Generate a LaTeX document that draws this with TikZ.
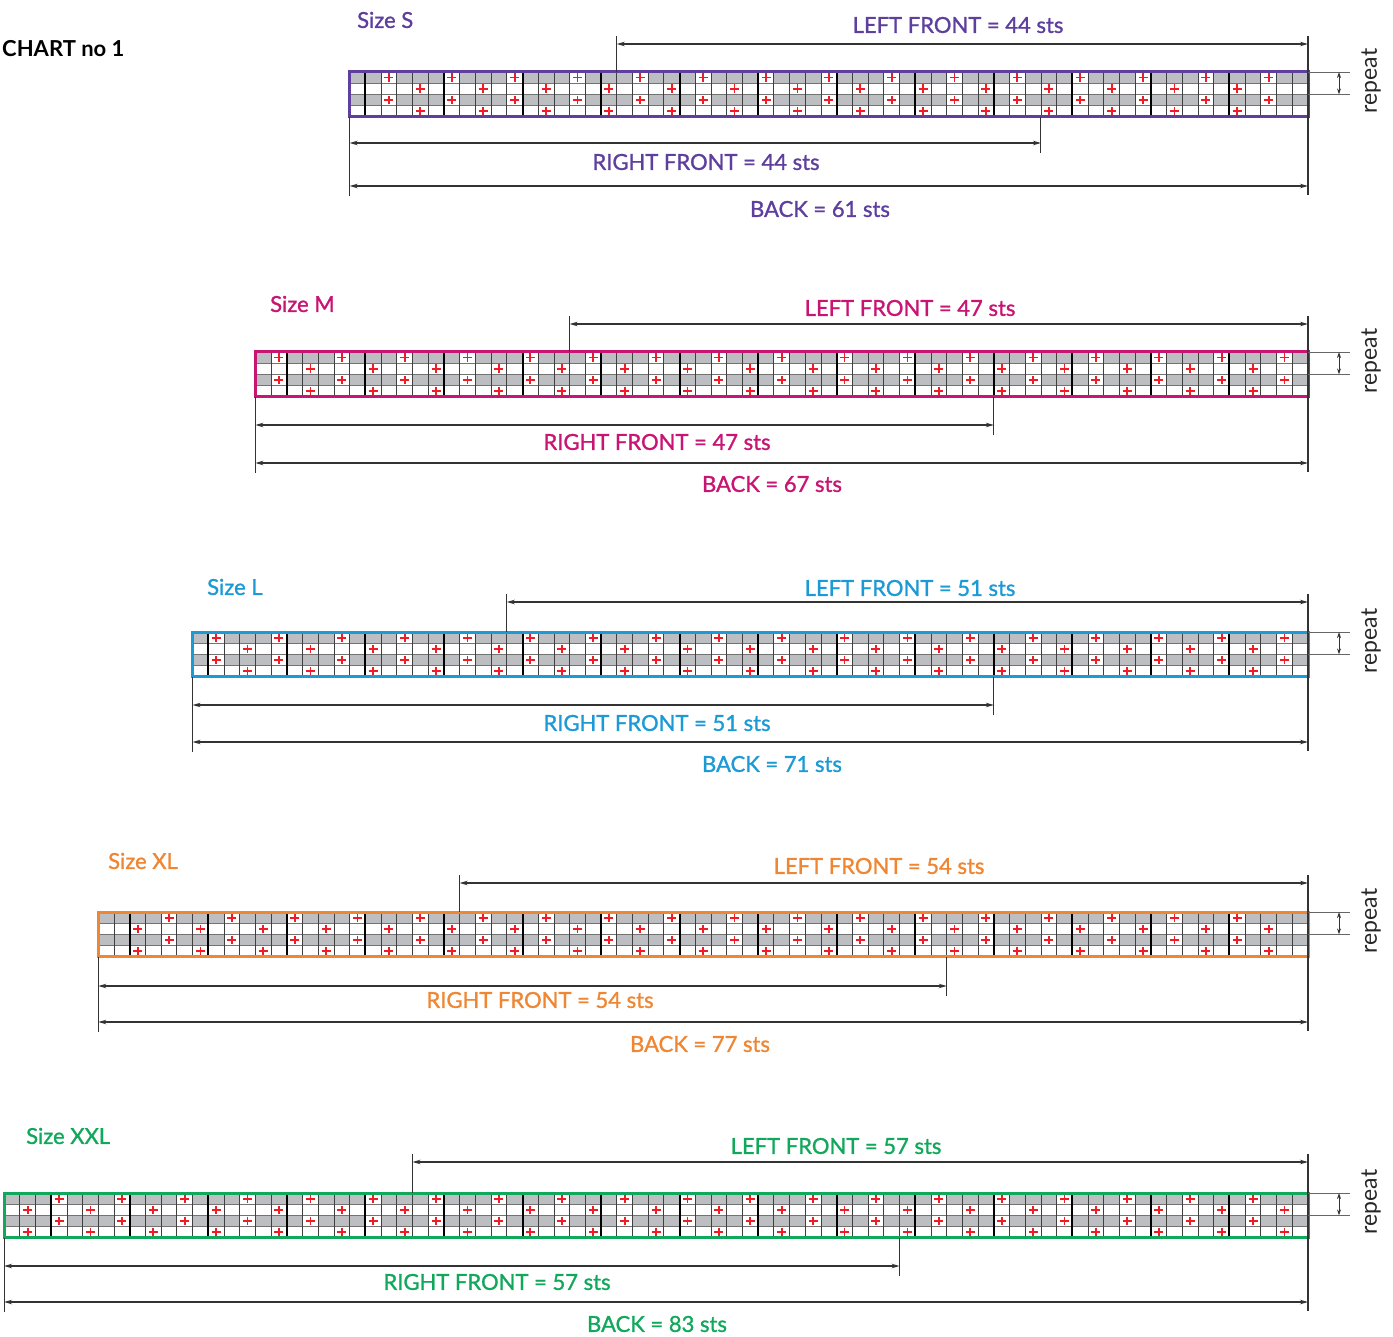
\documentclass[tikz,border=0pt]{standalone}
\usepackage{fontspec}
\setmainfont{Lato}
\newfontfamily\medfont{Lato}[FakeBold=1.2]
\usetikzlibrary{arrows.meta}
\definecolor{cS}{HTML}{5E3F9E}
\definecolor{cM}{HTML}{C81473}
\definecolor{cL}{HTML}{1C9AD6}
\definecolor{cXL}{HTML}{EE8633}
\definecolor{cXXL}{HTML}{12A85C}
\definecolor{cellgray}{HTML}{BDBEC1}
\definecolor{crossred}{HTML}{EE1C25}
\definecolor{dimgray}{HTML}{333333}
\begin{document}
\begin{tikzpicture}[x=1pt,y=-1pt,
  dimline/.style={draw=dimgray,line width=1.1pt,{Stealth[length=8pt,width=4.5pt]}-{Stealth[length=8pt,width=4.5pt]}},
  extline/.style={draw=dimgray,line width=1.1pt},
  gridthin/.style={draw=black!75,line width=0.8pt},
  gridthick/.style={draw=black,line width=2pt},
  rowline/.style={draw=black!55,line width=0.7pt},
  crossmark/.style={draw=crossred,line width=1.8pt},
  lbl/.style={font=\medfont\fontsize{22}{26}\selectfont,inner sep=0pt},
  replbl/.style={font=\fontsize{23}{26}\selectfont,inner sep=0pt,rotate=90,text=black!85},
  repline/.style={draw=black!60,line width=0.8pt},
  reparrow/.style={draw=dimgray,line width=1pt,{Stealth[length=6pt,width=4pt]}-{Stealth[length=6pt,width=4pt]}},
]
\useasboundingbox (0,0) rectangle (1393,1337);
\node[font=\bfseries\fontsize{22}{26}\selectfont,anchor=west,inner sep=0pt] (title) at (2,49) {CHART no 1};
\def\w{15.71}
\def\h{11.2}
\def\R{1308}
\foreach \id/\N/\col/\top/\res/\lf/\lfy/\lfx/\rfy/\rfx/\bky/\bkx/\szx/\szy/\lfly/\rfly/\bkly in {
 S/61/cS/72/2/44/44/958/143/706/186/820/357/20/25/162/209,
 M/67/cM/352/1/47/324/910/425/657/463/772/270/304/308/442/484,
 L/71/cL/632/1/51/602/910/705/657/742/772/207/587/588/723/764,
 XL/77/cXL/912/0/54/883/879/986/540/1022/700/108/861/866/1000/1044,
 XXL/83/cXXL/1193/3/57/1162/836/1266/497/1302/657/26/1136/1146/1282/1324}{
  \pgfmathsetmacro\Lx{\R-\N*\w}
  \pgfmathsetmacro\lfpos{\R-\lf*\w}
  \pgfmathsetmacro\rfpos{\Lx+\lf*\w}
  \pgfmathsetmacro\bot{\top+4*\h}
  \pgfmathtruncatemacro\Nm{\N-1}
  \pgfmathtruncatemacro\Nmm{\N-2}
  \fill[cellgray] (\Lx,\top) rectangle (\R,\top+\h);
  \fill[cellgray] (\Lx,\top+2*\h) rectangle (\R,\top+3*\h);
  \foreach \c in {1,...,\Nmm}{
    \pgfmathtruncatemacro\r{\N-1-\c}
    \pgfmathtruncatemacro\m{mod(\r,4)}
    \foreach \k in {0,1,2,3}{
      \pgfmathtruncatemacro\want{mod(\res+2*\k,4)}
      \ifnum\m=\want
        \pgfmathsetmacro\cx{\Lx+(\c+0.5)*\w}
        \pgfmathsetmacro\cy{\top+(\k+0.5)*\h}
        \fill[white] (\cx-\w/2,\cy-\h/2) rectangle ++(\w,\h);
        \draw[crossmark] (\cx-4.5,\cy) -- (\cx+4.5,\cy) (\cx,\cy-4.3) -- (\cx,\cy+4.3);
      \fi
    }
  }
  \foreach \k in {1,2,3} \draw[rowline] (\Lx,\top+\k*\h) -- (\R,\top+\k*\h);
  \foreach \c in {1,...,\Nm}{
    \pgfmathtruncatemacro\fr{mod(\N-\c,5)}
    \ifnum\fr=0
      \draw[gridthick] (\Lx+\c*\w,\top) -- ++(0,4*\h);
    \else
      \draw[gridthin] (\Lx+\c*\w,\top) -- ++(0,4*\h);
    \fi
  }
  \draw[\col,line width=3pt] (\Lx,\top) rectangle (\R,\bot);
  % dimension coordinates
  \coordinate (lfa\id) at (\lfpos,\lfy);
  \coordinate (lfb\id) at (\R,\lfy);
  \coordinate (lfe\id) at (\lfpos,\lfy-8);
  \coordinate (lft\id) at (\lfpos,\top);
  \coordinate (rte\id) at (\R,\lfy-8);
  \coordinate (rtb\id) at (\R,\bky+9);
  \coordinate (rfa\id) at (\Lx,\rfy);
  \coordinate (rfb\id) at (\rfpos,\rfy);
  \coordinate (rft\id) at (\rfpos,\bot);
  \coordinate (rfe\id) at (\rfpos,\rfy+10);
  \coordinate (lte\id) at (\Lx,\bot);
  \coordinate (ltb\id) at (\Lx,\bky+10);
  \coordinate (bka\id) at (\Lx,\bky);
  \coordinate (bkb\id) at (\R,\bky);
  \draw[extline] (lfe\id) -- (lft\id);
  \draw[extline] (rte\id) -- (rtb\id);
  \draw[extline] (rft\id) -- (rfe\id);
  \draw[extline] (lte\id) -- (ltb\id);
  \draw[dimline] (lfa\id) -- (lfb\id);
  \draw[dimline] (rfa\id) -- (rfb\id);
  \draw[dimline] (bka\id) -- (bkb\id);
  \node[lbl,text=\col] (lflbl\id) at (\lfx,\lfly) {LEFT FRONT = \lf\ sts};
  \node[lbl,text=\col] (rflbl\id) at (\rfx,\rfly) {RIGHT FRONT = \lf\ sts};
  \node[lbl,text=\col] (bklbl\id) at (\bkx,\bkly) {BACK = \N\ sts};
  \node[lbl,text=\col,anchor=west] (sz\id) at (\szx,\szy) {Size \id};
  % repeat marker
  \coordinate (ra\id) at (\R,\top);
  \coordinate (rb\id) at (1350,\top);
  \coordinate (rc\id) at (\R,\top+2*\h);
  \coordinate (rd\id) at (1350,\top+2*\h);
  \coordinate (rt\id) at (1339,\top);
  \coordinate (rm\id) at (1339,\top+2*\h);
  \draw[repline] (ra\id) -- (rb\id);
  \draw[repline] (rc\id) -- (rd\id);
  \draw[reparrow] (rt\id) -- (rm\id);
  \node[replbl] (rep\id) at (1371,\top+9) {repeat};
}
\end{tikzpicture}
\end{document}
